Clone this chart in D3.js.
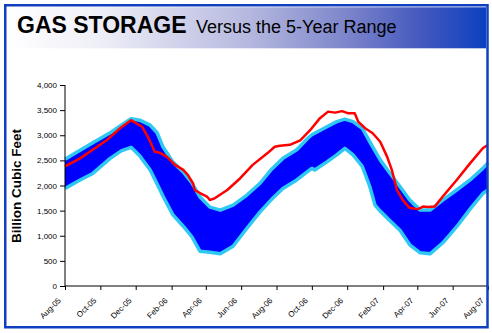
<!DOCTYPE html>
<html><head><meta charset="utf-8">
<script src="https://cdn.jsdelivr.net/npm/d3@7"></script>
<style>html,body{margin:0;padding:0;background:#fff;} svg{display:block;}</style>
</head><body>
<svg id="c" width="492" height="333"></svg>
<script>
const titleMain = "GAS STORAGE";
const titleSub = "Versus the 5-Year Range";
const yAxisTitle = "Billion Cubic Feet";
const yTicks = [0, 500, 1000, 1500, 2000, 2500, 3000, 3500, 4000];
const xTickDates = ["2005-08-01","2005-10-01","2005-12-01","2006-02-01","2006-04-01","2006-06-01","2006-08-01","2006-10-01","2006-12-01","2007-02-01","2007-04-01","2007-06-01","2007-08-01"];
const xTickLabels = ["Aug-05","Oct-05","Dec-05","Feb-06","Apr-06","Jun-06","Aug-06","Oct-06","Dec-06","Feb-07","Apr-07","Jun-07","Aug-07"];

const bandDates = ["2005-08-01","2005-08-27","2005-09-18","2005-10-18","2005-11-06","2005-11-23","2005-12-08","2005-12-26","2006-01-07","2006-01-17","2006-02-03","2006-02-21","2006-03-08","2006-03-22","2006-04-08","2006-04-26","2006-05-18","2006-06-11","2006-07-04","2006-07-24","2006-08-12","2006-09-05","2006-09-24","2006-10-01","2006-10-06","2006-10-27","2006-11-13","2006-11-27","2006-12-11","2006-12-27","2007-01-09","2007-01-18","2007-01-27","2007-02-13","2007-03-02","2007-03-19","2007-04-06","2007-04-23","2007-05-15","2007-06-08","2007-07-01","2007-07-23","2007-08-01"];
const bandMax = [2520,2700,2850,3050,3200,3330,3300,3200,3050,2770,2470,2270,2050,1770,1570,1510,1610,1810,2050,2330,2540,2710,2940,3010,3040,3170,3270,3320,3270,3140,2870,2690,2510,2240,1980,1710,1510,1510,1710,1910,2110,2340,2450];
const bandMin = [1940,2110,2240,2540,2690,2760,2590,2310,2030,1790,1420,1190,980,690,670,640,790,1150,1480,1730,1940,2110,2280,2340,2310,2470,2610,2740,2610,2380,1980,1610,1490,1300,1110,820,660,640,860,1180,1530,1840,1910];

const storageDates = ["2005-08-01","2005-08-27","2005-09-18","2005-10-12","2005-11-04","2005-11-23","2005-12-12","2005-12-22","2006-01-03","2006-01-12","2006-01-24","2006-02-07","2006-02-21","2006-03-01","2006-03-10","2006-03-13","2006-03-22","2006-04-03","2006-04-08","2006-04-17","2006-05-08","2006-05-30","2006-06-21","2006-07-16","2006-07-29","2006-08-07","2006-08-24","2006-09-11","2006-09-28","2006-10-15","2006-10-29","2006-11-10","2006-11-22","2006-12-02","2006-12-14","2006-12-20","2007-01-01","2007-01-14","2007-01-27","2007-02-08","2007-02-16","2007-02-25","2007-03-07","2007-03-19","2007-04-02","2007-04-11","2007-04-19","2007-05-01","2007-05-15","2007-06-08","2007-07-01","2007-07-23","2007-08-01"];
const storageValues = [2380,2540,2710,2900,3140,3300,3170,2970,2670,2650,2570,2410,2310,2210,2040,1910,1850,1780,1710,1750,1910,2140,2410,2640,2770,2790,2810,2900,3100,3340,3470,3450,3480,3440,3440,3270,3140,3040,2870,2570,2310,1910,1710,1550,1530,1580,1570,1580,1780,2110,2440,2740,2810];

const parse = d3.timeParse("%Y-%m-%d");
const svg = d3.select("#c");
const FONT = "'Liberation Sans', Arial, sans-serif";

// header gradient
const defs = svg.append("defs");
const grad = defs.append("linearGradient").attr("id","hg").attr("x1","0").attr("x2","1").attr("y1","0").attr("y2","0");
[["0%","#ffffff"],["20%","#eeeef7"],["50%","#b6b9df"],["70%","#8088cc"],["85%","#4a5cbf"],["100%","#0c40c0"]]
  .forEach(([o,c]) => grad.append("stop").attr("offset",o).attr("stop-color",c));

svg.append("rect").attr("x",6).attr("y",7.3).attr("width",480).attr("height",41).attr("fill","url(#hg)");

svg.append("text").attr("x",17).attr("y",33.3).attr("font-family",FONT).attr("font-weight","bold")
  .attr("font-size",23).attr("fill","#000").text(titleMain);
svg.append("text").attr("x",196).attr("y",33.3).attr("font-family",FONT)
  .attr("font-size",18).attr("fill","#000").text(titleSub);

// scales
const x = d3.scaleTime().domain([parse(xTickDates[0]), parse(xTickDates[xTickDates.length-1])]).range([65, 488]);
const y = d3.scaleLinear().domain([0, 4000]).range([286, 85]);

const band = bandDates.map((d,i) => ({d: parse(d), hi: bandMax[i], lo: bandMin[i]}));
const stor = storageDates.map((d,i) => ({d: parse(d), v: storageValues[i]}));

const g = svg.append("g");
g.append("path").datum(band)
  .attr("d", d3.area().x(d => x(d.d)).y0(d => y(d.lo)).y1(d => y(d.hi)))
  .attr("fill", "#0000ff");
g.append("path").datum(band)
  .attr("d", d3.line().x(d => x(d.d)).y(d => y(d.hi)))
  .attr("fill","none").attr("stroke","#2ec8f5").attr("stroke-width",3.5).attr("stroke-linejoin","round");
g.append("path").datum(band)
  .attr("d", d3.line().x(d => x(d.d)).y(d => y(d.lo)))
  .attr("fill","none").attr("stroke","#2ec8f5").attr("stroke-width",3.5).attr("stroke-linejoin","round");
g.append("path").datum(stor)
  .attr("d", d3.line().x(d => x(d.d)).y(d => y(d.v)))
  .attr("fill","none").attr("stroke","#ff0000").attr("stroke-width",2.5).attr("stroke-linejoin","round");

// axes
const yAxis = d3.axisLeft(y).tickValues(yTicks).tickFormat(d3.format(",")).tickSize(5).tickPadding(3);
const ya = svg.append("g").attr("transform","translate(65,0)").call(yAxis);
ya.select(".domain").attr("stroke","#000").attr("d","M0,85V286");
ya.selectAll("text").attr("font-family",FONT).attr("font-size",8).attr("fill","#000");

const xAxis = d3.axisBottom(x).tickValues(xTickDates.map(parse))
  .tickFormat((d,i) => xTickLabels[i]).tickSize(4);
const xa = svg.append("g").attr("transform","translate(0,286)").call(xAxis);
xa.select(".domain").attr("stroke","#000").attr("d","M65,0H488");
xa.selectAll("text")
  .attr("font-family",FONT).attr("font-size",8).attr("fill","#000")
  .attr("text-anchor","end").attr("y",0).attr("dy","0.35em")
  .attr("transform","translate(-6,13) rotate(-45)");

svg.append("text").attr("transform","translate(20.5,186) rotate(-90)")
  .attr("text-anchor","middle").attr("font-family",FONT).attr("font-weight","bold")
  .attr("font-size",13.5).attr("fill","#000").text(yAxisTitle);

// frame
svg.append("rect").attr("x",5.25).attr("y",5.25).attr("width",482.25).attr("height",322)
  .attr("fill","none").attr("stroke","#1040c0").attr("stroke-width",2.5);
</script>
</body></html>
